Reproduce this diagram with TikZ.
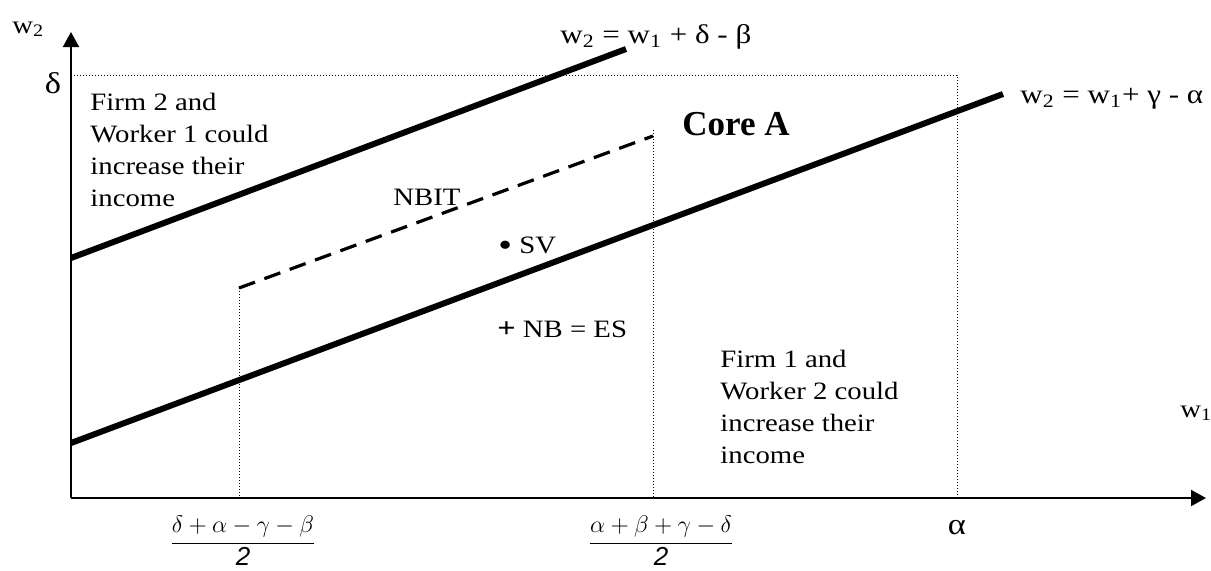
\documentclass[tikz,border=0pt]{standalone}
\usepackage{amsmath}
\usepackage{fontspec}
\setmainfont[FakeStretch=1.15]{Liberation Serif}
\newfontfamily\corefont{Liberation Serif}
\newfontfamily\arialfont{Liberation Sans}
\usetikzlibrary{arrows.meta}

\begin{document}
\begin{tikzpicture}[x=0.5pt,y=-0.5pt,font=\fontsize{12.5}{16}\selectfont,
  axis/.style={line width=1pt,-{Triangle[length=7.5pt,width=8pt]}},
  bound/.style={line width=3pt},
  nbit/.style={line width=1.6pt,dash pattern=on 8.5pt off 5pt},
  guide/.style={line width=0.4pt,dash pattern=on 0.5pt off 1pt},
  lbl/.style={inner sep=0pt,anchor=base west},
  eqn/.style={lbl,font=\fontsize{13.5}{16}\selectfont},
  greek/.style={inner sep=0pt,anchor=base,font=\fontsize{15}{16}\selectfont},
  note/.style={inner sep=0pt,anchor=north west,align=left}]
  \useasboundingbox (0,0) rectangle (1211,570);
  \coordinate (O) at (71,498);
  \coordinate (ytip) at (71,32);
  \coordinate (xtip) at (1206,498);
  \coordinate (dtop) at (71,75);
  \coordinate (acorner) at (957,75);
  \coordinate (abase) at (957,498);
  \coordinate (u1) at (71,258);  \coordinate (u2) at (626,49);
  \coordinate (l1) at (71,443);  \coordinate (l2) at (1003,94);
  \coordinate (n1) at (239,288); \coordinate (n2) at (653,136);
  \coordinate (n2top) at (653,130);
  \coordinate (n1base) at (239,498); \coordinate (n2base) at (653,498);
  \draw[guide] (dtop) -- (acorner) -- (abase);
  \draw[guide] (n1) -- (n1base);
  \draw[guide] (n2top) -- (n2base);
  \draw[axis] (O) -- (ytip);
  \draw[axis] (O) -- (xtip);
  \draw[bound] (u1) -- (u2);
  \draw[bound] (l1) -- (l2);
  \draw[nbit] (n1) -- (n2);
  \node[lbl] (w2) at (12,33) {w\textsubscript{2}};
  \node[lbl] (w1) at (1180,417) {w\textsubscript{1}};
  \node[greek] (delta) at (53,93) {δ};
  \node[greek] (alpha) at (957,534) {α};
  \node[eqn] (upper) at (560,43) {w\textsubscript{2} = w\textsubscript{1} + δ - β};
  \node[eqn] (lower) at (1020,103) {w\textsubscript{2} = w\textsubscript{1}+ γ - α};
  \node[lbl,font=\fontsize{17.5}{20}\selectfont\corefont\bfseries] (core) at (682,135) {Core A};
  \node[lbl] (nbitlbl) at (393,205) {NBIT};
  \node[lbl] (sv) at (498,253) {\raisebox{-1.5pt}{\fontsize{17}{16}\selectfont\textbullet} SV};
  \node[lbl] (nb) at (497,337) {{\fontsize{14}{16}\selectfont\textbf{+}} NB = ES};
  \node[note] (firm2) at (90,93) {Firm 2 and\\Worker 1 could\\increase their\\income};
  \node[note] (firm1) at (720,350) {Firm 1 and\\Worker 2 could\\increase their\\income};
  \node (fr1) at (243,541) {$\dfrac{\delta+\alpha-\gamma-\beta}{\mbox{\fontsize{13}{13}\selectfont\arialfont\itshape 2}}$};
  \node (fr2) at (661,541) {$\dfrac{\alpha+\beta+\gamma-\delta}{\mbox{\fontsize{13}{13}\selectfont\arialfont\itshape 2}}$};
\end{tikzpicture}
\end{document}
